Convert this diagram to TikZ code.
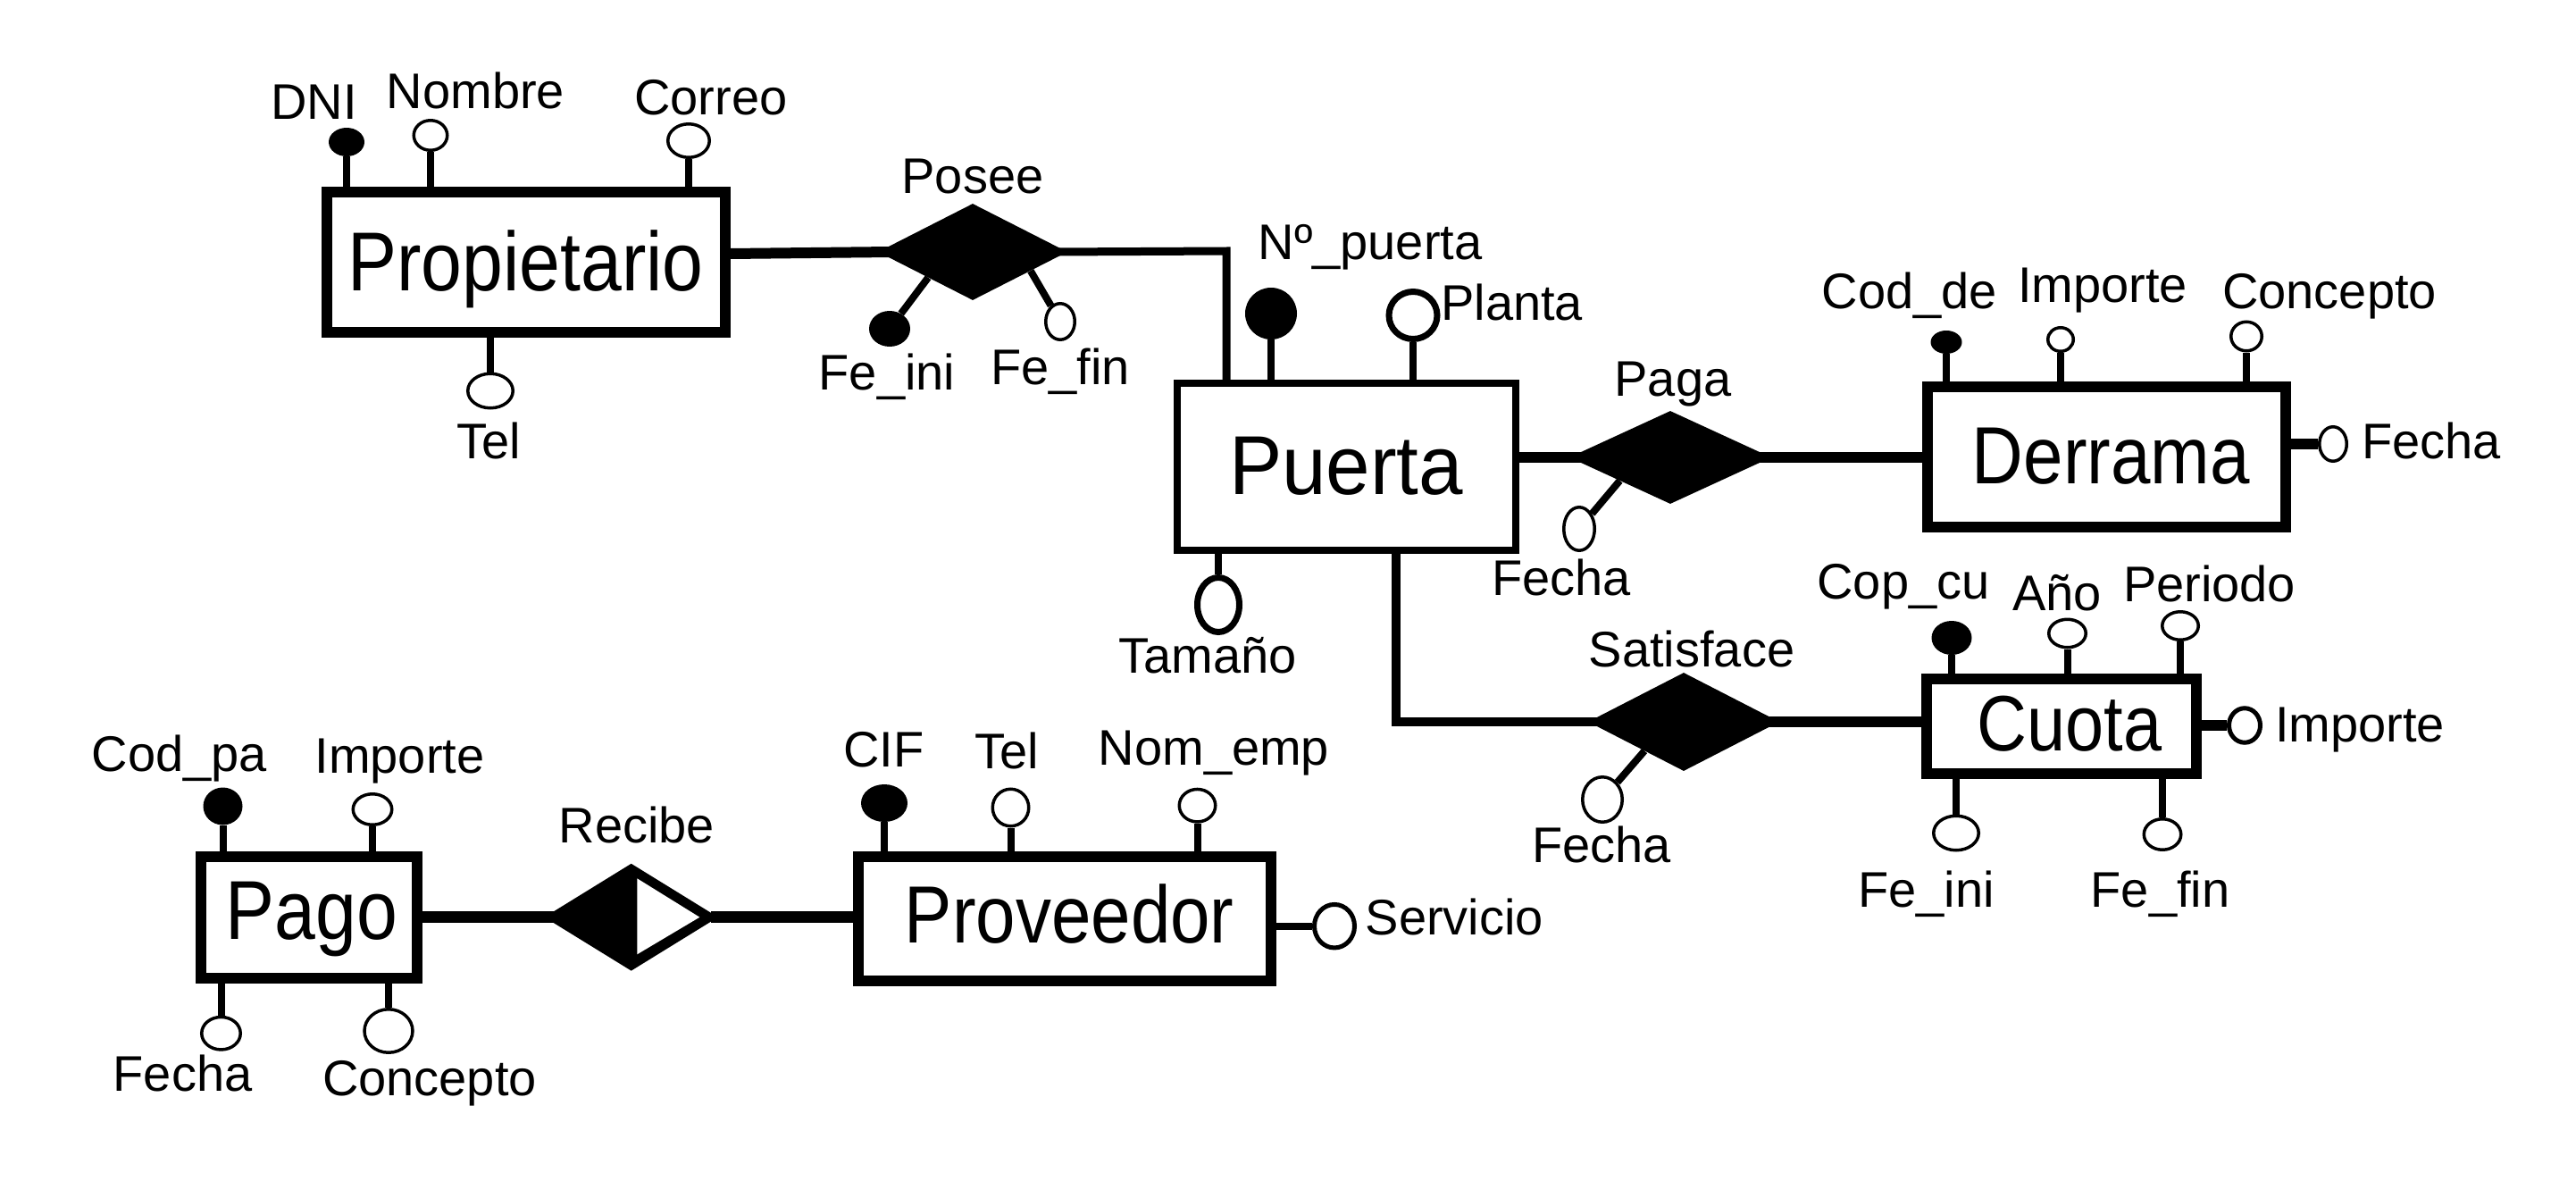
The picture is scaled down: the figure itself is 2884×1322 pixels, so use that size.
\documentclass[tikz,border=0pt]{standalone}
\usepackage{fontspec}
\setmainfont{Liberation Sans}
\newfontfamily\entfont[FakeStretch=0.88]{Liberation Sans}
\newfontfamily\puertafont[FakeStretch=0.95]{Liberation Sans}
\usetikzlibrary{shapes.geometric,calc}
\newcommand\attfont{\fontsize{56}{60}\selectfont}
\begin{document}
\begin{tikzpicture}[x=1pt,y=-1pt,
  ent/.style={draw, line width=12pt, rectangle, inner sep=0pt, fill=white},
  keyatt/.style={ellipse, fill=black, inner sep=0pt},
  att/.style={ellipse, draw, line width=3.5pt, fill=white, inner sep=0pt},
  rel/.style={diamond, fill=black, inner sep=0pt},
  stem/.style={line width=8pt},
  conn/.style={line width=12pt},
  lab/.style={anchor=base, inner sep=0pt, font=\attfont},
  labw/.style={anchor=base west, inner sep=0pt, font=\attfont}]
\useasboundingbox (0,0) rectangle (2884,1322);
\fill[white] (0,0) rectangle (2884,1322);

% entities
\node[ent, minimum width=446pt, minimum height=157pt, text height=67pt, text depth=3pt,
  font=\entfont\fontsize{93.6}{100}\selectfont] (prop) at (588.5,293) {Propietario};
\node[ent, line width=8pt, minimum width=379pt, minimum height=187.5pt, text height=67pt, text depth=6.4pt,
  font=\puertafont\fontsize{93.6}{100}\selectfont] (puerta) at (1507,522.7) {Puerta};
\node[ent, minimum width=401.5pt, minimum height=156.7pt, text height=65pt, text depth=5.2pt,
  font=\entfont\fontsize{90.8}{100}\selectfont] (derrama) at (2358.3,511.8) {\hspace*{10pt}Derrama};
\node[ent, minimum width=302pt, minimum height=106pt, text height=63pt, text depth=9pt,
  font=\entfont\fontsize{88}{96}\selectfont] (cuota) at (2308,813) {\hspace*{18pt}Cuota};
\node[ent, minimum width=242pt, minimum height=135.5pt, text height=67pt, text depth=17.2pt,
  font=\entfont\fontsize{93.6}{100}\selectfont] (pago) at (346,1026.8) {\hspace*{6pt}Pago};
\node[ent, minimum width=462pt, minimum height=139pt, text height=65pt, text depth=12pt,
  font=\entfont\fontsize{90.8}{100}\selectfont] (prov) at (1191.8,1028.5) {\hspace*{11pt}Proveedor};

% relationships
\node[rel, minimum width=212pt, minimum height=108pt] (posee) at (1089,282) {};
\node[rel, minimum width=226pt, minimum height=104pt] (paga) at (1870,512) {};
\node[rel, minimum width=214pt, minimum height=110pt] (satisface) at (1885,808) {};
\node[rel, minimum width=194.6pt, minimum height=120pt] (recibe) at (706.7,1026.7) {};
\fill[white] ([shift={(6.6,-43.4)}]recibe.center) -- ([shift={(76.6,0)}]recibe.center)
  -- ([shift={(6.6,41.6)}]recibe.center) -- cycle;

\node[lab] (lposee) at (1089,216.7) {Posee};
\node[lab] (lpaga) at (1873,443) {Paga};
\node[lab] (lsat) at (1894,746.7) {Satisface};
\node[lab] (lrec) at (713,943) {Recibe};

% connectors
\draw[conn] ([yshift=9pt]prop.east) -- ([xshift=15pt]posee.west);
\coordinate (pc) at (1373,281);
\draw[line width=9pt] ([xshift=-15pt]posee.east) -- (pc) -- (pc |- puerta.north);
\draw[conn] (paga.west -| puerta.east) -- ([xshift=15pt]paga.west);
\draw[conn] ([xshift=-15pt]paga.east) -- (paga.east -| derrama.west);
\draw[line width=10pt] ([xshift=56pt]puerta.south) |- ([xshift=15pt]satisface.west);
\draw[conn] ([xshift=-15pt]satisface.east) -- (satisface.east -| cuota.west);
\draw[line width=13pt] (recibe.west -| pago.east) -- ([xshift=15pt]recibe.west);
\draw[line width=13pt] ([xshift=-8pt]recibe.east) -- (recibe.east -| prov.west);

% Propietario attributes
\node[keyatt, minimum width=40pt, minimum height=32pt] (dni) at (388,159) {};
\node[att, minimum width=37.5pt, minimum height=33.5pt] (nombre) at (482,151.5) {};
\node[att, minimum width=46.5pt, minimum height=37.5pt] (correo) at (771,157.5) {};
\node[att, minimum width=50.5pt, minimum height=38.5pt] (ptel) at (549,437.5) {};
\draw[stem] (dni.south) -- (dni.south |- prop.north);
\draw[stem] (nombre.south) -- (nombre.south |- prop.north);
\draw[stem] (correo.south) -- (correo.south |- prop.north);
\draw[stem] (ptel.north) -- (ptel.north |- prop.south);
\node[lab] (tdni) at (351.6,133) {DNI};
\node[lab] (tnombre) at (532.5,121.7) {Nombre};
\node[lab] (tcorreo) at (796,128.3) {Correo};
\node[lab] (tptel) at (547,513) {Tel};

% Posee attributes
\node[keyatt, minimum width=46pt, minimum height=40pt] (feini) at (996,368) {};
\node[att, minimum width=32.5pt, minimum height=40.5pt] (fefin) at (1187,360) {};
\draw[stem] (feini) -- ($(posee.west)!0.53!(posee.south)$);
\draw[stem] (fefin) -- ($(posee.east)!0.39!(posee.south)$);
\node[lab] (tfeini) at (993,436.7) {Fe\_ini};
\node[lab] (tfefin) at (1187,430) {Fe\_fin};

% Puerta attributes
\node[keyatt, minimum width=58pt, minimum height=58pt] (npuerta) at (1423,351) {};
\node[att, line width=7pt, minimum width=54pt, minimum height=53pt] (planta) at (1582,353) {};
\node[att, line width=7pt, minimum width=47pt, minimum height=61pt] (tamano) at (1364,677) {};
\draw[stem] (npuerta.south) -- (npuerta.south |- puerta.north);
\draw[stem] (planta.south) -- (planta.south |- puerta.north);
\draw[stem] (tamano.north) -- (tamano.north |- puerta.south);
\node[lab] (tnpuerta) at (1534,290) {Nº\_puerta};
\node[labw] (tplanta) at (1613,358) {Planta};
\node[lab] (ttamano) at (1352,753) {Tamaño};

% Paga attribute
\node[att, minimum width=34.5pt, minimum height=48.5pt] (pgfecha) at (1768,592) {};
\draw[stem] (pgfecha) -- ($(paga.west)!0.5!(paga.south)$);
\node[lab] (tpgfecha) at (1748,666.7) {Fecha};

% Derrama attributes
\node[keyatt, minimum width=35pt, minimum height=26pt] (codde) at (2179,383) {};
\node[att, minimum width=28.5pt, minimum height=26.5pt] (dimporte) at (2307,380) {};
\node[att, minimum width=34.5pt, minimum height=32.5pt] (dconcepto) at (2515,376.5) {};
\node[att, minimum width=30.5pt, minimum height=38.5pt] (dfecha) at (2612,497) {};
\draw[stem] (codde.south) -- (codde.south |- derrama.north);
\draw[stem] (dimporte.south) -- (dimporte.south |- derrama.north);
\draw[stem] (dconcepto.south) -- (dconcepto.south |- derrama.north);
\draw[stem, line width=12pt] (dfecha.west) -- (dfecha.west -| derrama.east);
\node[lab] (tcodde) at (2138,345) {Cod\_de};
\node[lab] (tdimporte) at (2354,338) {Importe};
\node[lab] (tdconcepto) at (2608,345) {Concepto};
\node[labw] (tdfecha) at (2644,513) {Fecha};

% Satisface attribute
\node[att, minimum width=44.5pt, minimum height=50.5pt] (sfecha) at (1794,895) {};
\draw[stem] (sfecha) -- ($(satisface.west)!0.59!(satisface.south)$);
\node[lab] (tsfecha) at (1793,965) {Fecha};

% Cuota attributes
\node[keyatt, minimum width=45pt, minimum height=38pt] (copcu) at (2185,714) {};
\node[att, minimum width=41.5pt, minimum height=31.5pt] (anio) at (2314.5,709) {};
\node[att, minimum width=40.5pt, minimum height=31.5pt] (periodo) at (2441,700.5) {};
\node[att, line width=5pt, minimum width=35pt, minimum height=38.5pt] (cimporte) at (2513,812) {};
\node[att, minimum width=50.5pt, minimum height=38.5pt] (cfeini) at (2190,932.5) {};
\node[att, minimum width=41.5pt, minimum height=34.5pt] (cfefin) at (2421,934) {};
\draw[stem] (copcu.south) -- (copcu.south |- cuota.north);
\draw[stem] (anio.south) -- (anio.south |- cuota.north);
\draw[stem] (periodo.south) -- (periodo.south |- cuota.north);
\draw[stem, line width=12pt] (cimporte.west) -- (cimporte.west -| cuota.east);
\draw[stem] (cfeini.north) -- (cfeini.north |- cuota.south);
\draw[stem] (cfefin.north) -- (cfefin.north |- cuota.south);
\node[lab] (tcopcu) at (2131,670) {Cop\_cu};
\node[lab] (tanio) at (2303,683) {Año};
\node[lab] (tperiodo) at (2473.5,673) {Periodo};
\node[labw] (tcimporte) at (2547,830) {Importe};
\node[lab] (tcfeini) at (2156.5,1015) {Fe\_ini};
\node[lab] (tcfefin) at (2418.5,1015) {Fe\_fin};

% Pago attributes
\node[keyatt, minimum width=44pt, minimum height=42pt] (codpa) at (249.5,902.5) {};
\node[att, minimum width=43.5pt, minimum height=34.5pt] (pimporte) at (417,906) {};
\node[att, minimum width=43.5pt, minimum height=36.5pt] (pfecha) at (247.5,1156.7) {};
\node[att, minimum width=54pt, minimum height=48.5pt] (pconcepto) at (435,1154) {};
\draw[stem] (codpa.south) -- (codpa.south |- pago.north);
\draw[stem] (pimporte.south) -- (pimporte.south |- pago.north);
\draw[stem] (pfecha.north) -- (pfecha.north |- pago.south);
\draw[stem] (pconcepto.north) -- (pconcepto.north |- pago.south);
\node[lab] (tcodpa) at (201,863) {Cod\_pa};
\node[lab] (tpimporte) at (447.5,865) {Importe};
\node[lab] (tpfecha) at (204.6,1221.7) {Fecha};
\node[lab] (tpconcepto) at (481,1226.7) {Concepto};

% Proveedor attributes
\node[keyatt, minimum width=52pt, minimum height=42pt] (cif) at (990,899) {};
\node[att, minimum width=40.5pt, minimum height=41.5pt] (prtel) at (1131.5,904) {};
\node[att, minimum width=40.5pt, minimum height=36.5pt] (nomemp) at (1340.5,901.7) {};
\node[att, line width=5pt, minimum width=45pt, minimum height=48.5pt] (servicio) at (1494,1036.7) {};
\draw[stem] (cif.south) -- (cif.south |- prov.north);
\draw[stem] (prtel.south) -- (prtel.south |- prov.north);
\draw[stem] (nomemp.south) -- (nomemp.south |- prov.north);
\draw[stem] (servicio.west) -- (servicio.west -| prov.east);
\node[lab] (tcif) at (989.5,858) {CIF};
\node[lab] (tprtel) at (1127,860) {Tel};
\node[lab] (tnomemp) at (1359,856.7) {Nom\_emp};
\node[labw] (tservicio) at (1528.6,1046.7) {Servicio};
\end{tikzpicture}
\end{document}
